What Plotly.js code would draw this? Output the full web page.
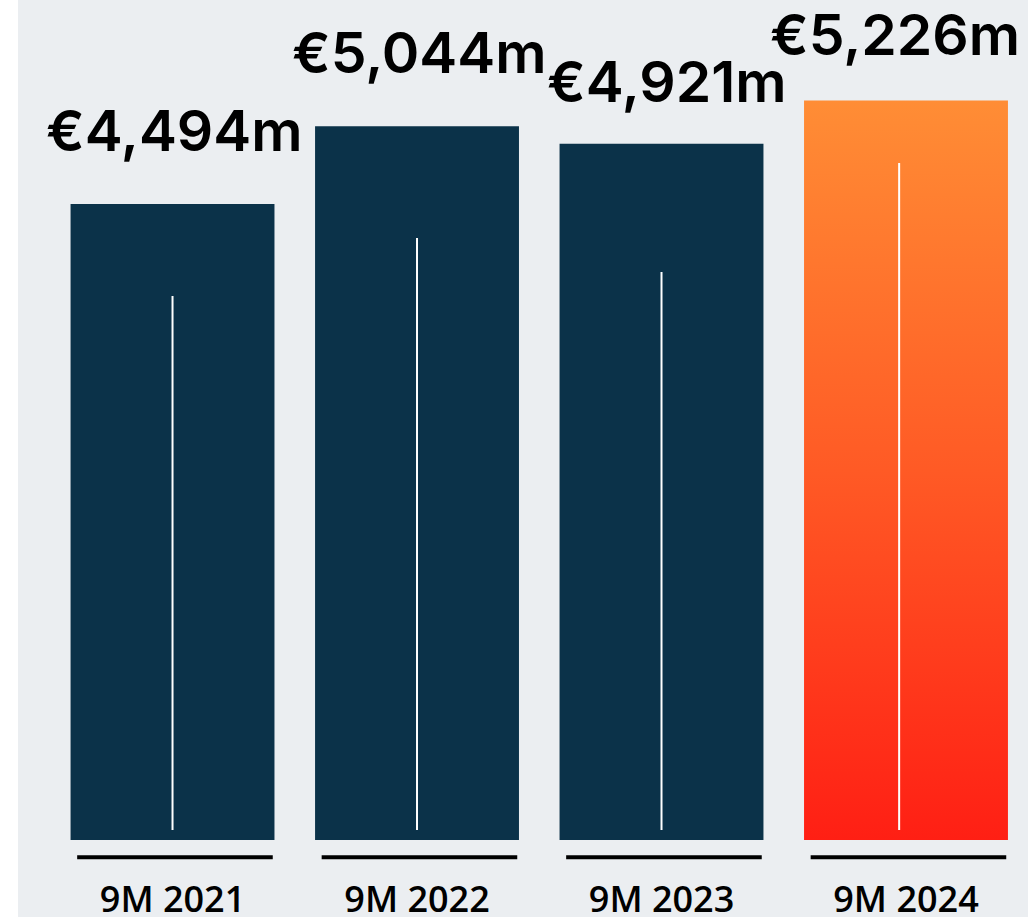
<!DOCTYPE html>
<html>
<head>
<meta charset="utf-8">
<script src="https://cdn.plot.ly/plotly-3.0.1.min.js"></script>
<style>
html,body{margin:0;padding:0;background:#fff;}
#chart{width:1028px;height:917px;}
</style>
</head>
<body>
<div id="chart"></div>
<script>
// ---- data ----
const categories = ["9M 2021", "9M 2022", "9M 2023", "9M 2024"];
const revenue = [4494, 5044, 4921, 5226];
const valueLabels = ["€4,494m", "€5,044m", "€4,921m", "€5,226m"];
const innerLineTop = [3845, 4254, 4014, 4784];
const innerLineBase = [71, 71, 71, 71];

// ---- styles ----
const NAVY = "#0B3249";
const HIGHLIGHT = "#FF5A25";
const labelLift = [37, 37, 26, 29];      // px gap of each value label above its bar
const labelNudge = [2, 2, 5, -11];       // px horizontal nudge of each value label
const barColors = categories.map((c, i) => i === categories.length - 1 ? HIGHLIGHT : NAVY);
const xs = categories.map((c, i) => i);

const traces = [{
  type: "bar",
  x: xs,
  y: revenue,
  width: 0.834,
  marker: {color: barColors, line: {width: 0}},
  hoverinfo: "skip",
  showlegend: false
}];
categories.forEach((c, i) => {
  const dx = i === categories.length - 1 ? -0.028 : 0;
  traces.push({
    type: "scatter",
    mode: "lines",
    x: [i + dx, i + dx],
    y: [innerLineBase[i], innerLineTop[i]],
    line: {color: "#FFFFFF", width: 2},
    hoverinfo: "skip",
    showlegend: false
  });
});

const annotations = valueLabels.map((t, i) => ({
  x: i, y: revenue[i], xref: "x", yref: "y",
  text: t, showarrow: false,
  yanchor: "bottom", xanchor: "center",
  yshift: labelLift[i], xshift: labelNudge[i],
  font: {family: "Inter", size: 57, color: "#000", weight: 600}
}));

const shapes = [
  {type: "rect", xref: "paper", yref: "paper", x0: -0.05, x1: 0, y0: -0.2, y1: 1.1,
   fillcolor: "#FFFFFF", line: {width: 0}, layer: "below"}
];
categories.forEach((c, i) => {
  shapes.push({
    type: "line", xref: "x", yref: "paper",
    x0: i - 0.39, x1: i + 0.41, y0: -0.0205, y1: -0.0205,
    line: {color: "#000000", width: 4}
  });
});

const layout = {
  width: 1028, height: 917,
  margin: {l: 18, r: 0, t: 0, b: 77},
  paper_bgcolor: "#EBEEF1",
  plot_bgcolor: "rgba(0,0,0,0)",
  xaxis: {
    range: [-0.632, 3.499],
    tickmode: "array", tickvals: xs, ticktext: categories,
    showgrid: false, zeroline: false, showline: false, ticks: "",
    tickfont: {family: "Open Sans", size: 36, color: "#000", weight: 600},
    ticklabelstandoff: 35,
    fixedrange: true
  },
  yaxis: {
    range: [0, 5936],
    showgrid: false, zeroline: false, showline: false,
    showticklabels: false, ticks: "", fixedrange: true
  },
  annotations: annotations,
  shapes: shapes,
  showlegend: false
};

Plotly.newPlot("chart", traces, layout, {displayModeBar: false, staticPlot: true}).then(gd => {
  const svg = gd.querySelector("svg.main-svg");
  const ns = "http://www.w3.org/2000/svg";
  let defs = svg.querySelector("defs");
  if (!defs) { defs = document.createElementNS(ns, "defs"); svg.insertBefore(defs, svg.firstChild); }
  const grad = document.createElementNS(ns, "linearGradient");
  grad.setAttribute("id", "hlGrad");
  grad.setAttribute("x1", "0"); grad.setAttribute("y1", "0");
  grad.setAttribute("x2", "0"); grad.setAttribute("y2", "1");
  [["0", "#FF8D35"], ["0.5", "#FF5A25"], ["1", "#FF1F14"]].forEach(([o, c]) => {
    const s = document.createElementNS(ns, "stop");
    s.setAttribute("offset", o); s.setAttribute("stop-color", c);
    grad.appendChild(s);
  });
  defs.appendChild(grad);
  const paths = gd.querySelectorAll(".barlayer .point path");
  const last = paths[paths.length - 1];
  if (last) last.style.fill = "url(#hlGrad)";
});
</script>
</body>
</html>
